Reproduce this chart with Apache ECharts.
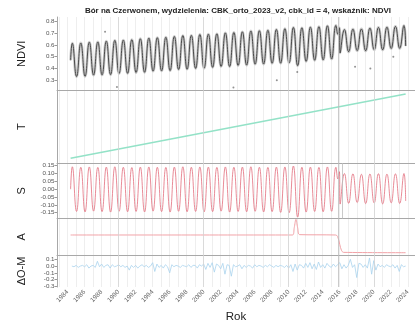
<!DOCTYPE html>
<html>
<head>
<meta charset="utf-8">
<script src="https://cdn.jsdelivr.net/npm/echarts@6/dist/echarts.min.js"></script>
<style>
  html, body { margin: 0; padding: 0; background: #ffffff; }
  #chart { width: 415px; height: 324px; }
</style>
</head>
<body>
<div id="chart"></div>
<script>
// ---- data (decimal years, NDVI units) ----
const peakYears = [1984,1985,1986,1987,1988,1989,1990,1991,1992,1993,1994,1995,1996,1997,1998,1999,
  2000,2001,2002,2003,2004,2005,2006,2007,2008,2009,2010,2011,2012,2013,2014,2015,2016,2017,2018,2019,
  2020,2021,2022,2023];
const troughYears = [1985,1986,1987,1988,1989,1990,1991,1992,1993,1994,1995,1996,1997,1998,1999,
  2000,2001,2002,2003,2004,2005,2006,2007,2008,2009,2010,2011,2012,2013,2014,2015,2016,2017,2018,2019,
  2020,2021,2022,2023];

// fitted NDVI (model) at the summer maxima and winter minima
const ndviPeaks = [0.614,0.616,0.623,0.625,0.632,0.639,0.641,0.644,0.652,0.658,0.661,0.665,0.672,0.679,
  0.681,0.688,0.691,0.694,0.702,0.705,0.711,0.718,0.720,0.724,0.731,0.737,0.748,0.745,0.751,0.754,0.762,
  0.765,0.730,0.733,0.735,0.742,0.748,0.750,0.757,0.764];
const ndviTroughs = [0.332,0.334,0.344,0.346,0.348,0.358,0.359,0.366,0.368,0.378,0.380,0.382,0.392,0.394,
  0.401,0.403,0.410,0.418,0.417,0.426,0.429,0.437,0.438,0.445,0.445,0.448,0.424,0.461,0.470,0.473,0.481,
  0.532,0.542,0.552,0.550,0.559,0.558,0.570,0.571];
const ndviEnds = [0.470, 0.590];
const ndviBreak = [[2015.78, 0.690], [2015.95, 0.745]];

// seasonal component
const sPeaks = [0.143,0.140,0.142,0.139,0.141,0.143,0.140,0.138,0.141,0.142,0.140,0.139,0.141,0.143,
  0.140,0.142,0.141,0.139,0.142,0.140,0.141,0.143,0.140,0.139,0.141,0.142,0.148,0.140,0.141,0.139,0.142,
  0.140,0.100,0.098,0.095,0.097,0.099,0.096,0.098,0.100];
const sTroughs = [-0.142,-0.145,-0.140,-0.143,-0.146,-0.141,-0.144,-0.142,-0.145,-0.140,-0.143,-0.146,
  -0.141,-0.144,-0.142,-0.145,-0.143,-0.140,-0.146,-0.142,-0.144,-0.141,-0.145,-0.143,-0.148,-0.150,
  -0.178,-0.146,-0.142,-0.144,-0.141,-0.095,-0.090,-0.085,-0.092,-0.088,-0.094,-0.087,-0.091];
const sEnds = [0.000, -0.075];
const sBreak = [[2015.78, 0.065], [2015.95, 0.112]];

// trend component
const trend = [[1984.35, 0.470], [2023.75, 0.665]];

// seasonal amplitude
const amplitude = [[1984.35,0.145],[2010.45,0.145],[2010.65,0.166],[2010.85,0.190],[2011.05,0.166],
  [2011.3,0.146],[2015.5,0.145],[2015.75,0.141],[2016.0,0.118],[2016.2,0.101],[2016.45,0.095],
  [2023.75,0.094]];

// residuals (observed - model), quarterly from 1984.5
const residStart = 1984.5;
const residStep = 0.25;
const residuals = [0.00,-0.01,
  0.01,-0.02,0.00,0.01,  -0.01,0.02,-0.03,0.00,  0.01,-0.02,0.07,-0.01,  0.03,-0.02,0.01,0.02,
  -0.03,0.02,-0.01,0.00, 0.02,-0.01,0.01,-0.02,  0.00,-0.06,0.01,-0.02,  0.01,-0.03,0.00,0.02,
  -0.01,0.01,-0.02,0.00, 0.05,-0.08,0.03,-0.02,  0.01,-0.03,0.02,-0.01,  -0.10,0.02,-0.01,0.01,
  0.00,-0.02,0.01,0.00,  -0.01,0.02,-0.02,0.01,  0.01,-0.03,0.02,0.00,   0.03,-0.05,0.04,-0.02,
  0.05,-0.09,0.03,0.01,  -0.04,0.04,-0.12,0.02,  0.01,-0.15,0.02,-0.01,  0.00,0.02,-0.04,0.01,
  -0.02,0.01,0.00,-0.03, 0.02,-0.01,0.01,0.00,   -0.02,0.01,-0.01,0.02,  0.00,-0.02,0.01,-0.01,
  0.01,0.00,-0.02,0.01,  -0.03,0.02,-0.08,0.03,  -0.06,0.02,0.01,-0.03,  0.04,-0.02,0.05,-0.04,
  0.03,-0.05,0.06,-0.02, 0.02,-0.03,0.04,0.00,   -0.02,0.03,-0.01,0.02,  0.05,-0.04,0.02,-0.03,
  0.01,0.10,-0.02,0.02,  -0.17,0.04,0.03,-0.02,  0.02,-0.03,0.12,-0.12,  0.08,-0.06,0.03,-0.01,
  0.01,-0.02,0.02,0.00,  -0.01,0.02,-0.03,0.01,  -0.08,0.02,-0.01,0.00];

// isolated NDVI observations away from the fitted curve
const outliers = [[1988.4,0.712],[1989.8,0.243],[2003.5,0.240],[2008.6,0.300],[2011.0,0.370],
  [2017.8,0.415],[2019.6,0.400],[2022.3,0.500]];

const xTickYears = [1984,1986,1988,1990,1992,1994,1996,1998,2000,2002,2004,2006,2008,2010,2012,2014,
  2016,2018,2020,2022,2024];
const breakYear = 2015.8;

const START = 1984.35, END = 2023.75;
const PEAK_PHASE = 0.55, TROUGH_PHASE = 0.05;

// ---- helpers ----
function seasonalPath(peaks, troughs, ends, extra) {
  const pts = [[START, ends[0]]];
  peakYears.forEach((y, i) => pts.push([y + PEAK_PHASE, peaks[i]]));
  troughYears.forEach((y, i) => pts.push([y + TROUGH_PHASE, troughs[i]]));
  extra.forEach(p => pts.push(p));
  pts.push([END, ends[1]]);
  pts.sort((a, b) => a[0] - b[0]);
  return pts;
}
const ndviFit = seasonalPath(ndviPeaks, ndviTroughs, ndviEnds, ndviBreak);
const sFit = seasonalPath(sPeaks, sTroughs, sEnds, sBreak);
const residData = residuals.map((v, i) => [residStart + i * residStep, v]);

const allYears = [];
for (let y = 1983; y <= 2024; y++) allYears.push(y);

const FONT = 'Liberation Sans';
const panels = [
  { name: 'NDVI', top: 17,    height: 73.5, min: 0.2136, max: 0.8364, ticks: [0.3,0.4,0.5,0.6,0.7,0.8], fmt: v => v.toFixed(1) },
  { name: 'T',    top: 90.5,  height: 72.5, min: 0.4557, max: 0.6756, ticks: [], fmt: v => v.toFixed(2) },
  { name: 'S',    top: 163,   height: 55.5, min: -0.187, max: 0.1672, ticks: [-0.15,-0.10,-0.05,0,0.05,0.10,0.15], fmt: v => v.toFixed(2) },
  { name: 'A',    top: 218.5, height: 36.5, min: 0.0874, max: 0.1925, ticks: [], fmt: v => v.toFixed(2) },
  { name: '\u0394O-M', top: 255, height: 35, min: -0.3095, max: 0.1635, ticks: [-0.3,-0.2,-0.1,0,0.1], fmt: v => v.toFixed(1) }
];

const grids = [], xAxes = [], yAxes = [];
panels.forEach((p, i) => {
  grids.push({ left: 57, right: 0, top: p.top, height: p.height });
  const last = i === panels.length - 1;
  xAxes.push({
    type: 'value', gridIndex: i, min: 1982.75, max: 2024.85,
    axisLine: { show: !last, onZero: false, lineStyle: { color: '#a8a8a8', width: 1 } },
    axisTick: { show: false, customValues: allYears },
    splitLine: { show: true, lineStyle: { color: '#e6e6e6', width: 0.7 } },
    axisLabel: {
      show: last, customValues: xTickYears, rotate: 45, margin: 4,
      formatter: v => String(v), hideOverlap: false,
      fontSize: 6.5, color: '#666', fontFamily: FONT
    },
    name: last ? 'Rok' : '', nameLocation: 'middle', nameGap: 24,
    nameTextStyle: { fontSize: 11.5, color: '#222', fontFamily: FONT }
  });
  yAxes.push({
    type: 'value', gridIndex: i, min: p.min, max: p.max,
    axisLine: { show: true, onZero: false, lineStyle: { color: '#a8a8a8', width: 1 } },
    axisTick: { show: p.ticks.length > 0, customValues: p.ticks, length: 2.5, lineStyle: { color: '#999' } },
    axisLabel: { show: p.ticks.length > 0, customValues: p.ticks, formatter: p.fmt,
      showMinLabel: true, showMaxLabel: true, hideOverlap: false,
      fontSize: 6.2, color: '#555', fontFamily: FONT, margin: 2.5 },
    splitLine: { show: false },
    name: p.name, nameLocation: 'middle', nameRotate: 90, nameGap: 30,
    nameTextStyle: { fontSize: 11, color: '#222', fontFamily: FONT }
  });
});

function guides(extra) {
  const lines = [1990, 2000, 2010, 2020].map(x => ({ xAxis: x, lineStyle: { color: '#d4d4d4', width: 0.8, type: 'solid' } }));
  lines.push({ xAxis: breakYear, lineStyle: { color: '#bdbdbd', width: 0.8, type: 'solid' } });
  (extra || []).forEach(x => lines.push({ xAxis: x, lineStyle: { color: '#bdbdbd', width: 0.8, type: 'solid' } }));
  return { silent: true, symbol: 'none', label: { show: false }, animation: false, data: lines };
}

const option = {
  animation: false,
  backgroundColor: '#ffffff',
  grid: grids,
  xAxis: xAxes,
  yAxis: yAxes,
  graphic: [{
    type: 'text', x: 238, y: 6.5,
    style: {
      text: 'B\u00f3r na Czerwonem, wydzielenia: CBK_orto_2023_v2, cbk_id = 4, wska\u017anik: NDVI',
      font: 'bold 8px "Liberation Sans"', fill: '#222', align: 'center'
    }
  }],
  series: [
    { // cloud of observations around the fit
      type: 'line', xAxisIndex: 0, yAxisIndex: 0, data: ndviFit, smooth: 0.5, showSymbol: false,
      lineStyle: { color: 'rgba(95,95,95,0.32)', width: 2.8 }, z: 2, markLine: guides()
    },
    {
      type: 'line', xAxisIndex: 0, yAxisIndex: 0, data: ndviFit, smooth: 0.5, showSymbol: false,
      lineStyle: { color: '#4a4a4a', width: 1 }, z: 3
    },
    {
      type: 'scatter', xAxisIndex: 0, yAxisIndex: 0, data: outliers, symbolSize: 2,
      itemStyle: { color: '#777' }, z: 3
    },
    {
      type: 'line', xAxisIndex: 1, yAxisIndex: 1, data: trend, showSymbol: false,
      lineStyle: { color: '#93e2c7', width: 1.6 }, markLine: guides()
    },
    {
      type: 'line', xAxisIndex: 2, yAxisIndex: 2, data: sFit, smooth: 0.5, showSymbol: false,
      lineStyle: { color: '#e26d7c', width: 0.8 }, markLine: guides([2016.25])
    },
    {
      type: 'line', xAxisIndex: 3, yAxisIndex: 3, data: amplitude, smooth: 0.35, showSymbol: false,
      lineStyle: { color: '#f2a3a8', width: 1 }, markLine: guides()
    },
    {
      type: 'line', xAxisIndex: 4, yAxisIndex: 4, data: residData, showSymbol: false,
      lineStyle: { color: '#a9d3ee', width: 0.8 }, markLine: guides()
    }
  ]
};

const chart = echarts.init(document.getElementById('chart'), null, { renderer: 'canvas' });
chart.setOption(option);
</script>
</body>
</html>
